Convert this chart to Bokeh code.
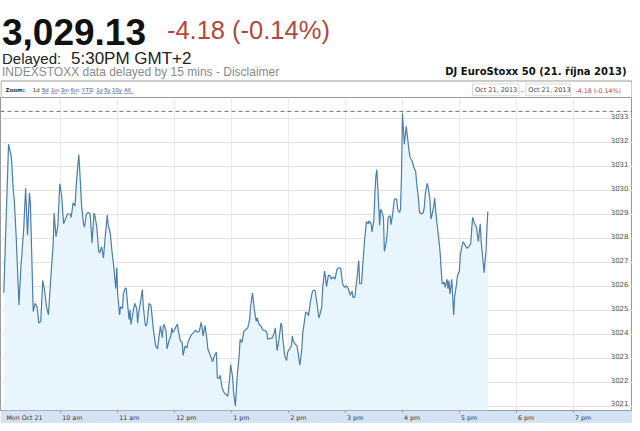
import sys
import pandas as pd
from bokeh.plotting import figure
from bokeh.models import Range1d, FixedTicker, Span, Label, Grid
from bokeh.layouts import column
from bokeh.embed import file_html
from bokeh.resources import INLINE
from bokeh.core.properties import value

# ---------------- data (DJ EuroStoxx 50, 21 Oct 2013, minutes after 09:00) ----------------
session_start = "2013-10-21 09:00"
prev_close = 3033.31
last_price = "3,029.13"
change_text = "-4.18 (-0.14%)"

t_a = [0, 5, 8, 10, 11, 13, 16, 18, 21, 23, 25, 27, 28, 31, 33, 35, 37, 39, 41, 43, 45, 47, 50, 52, 53,
       55, 57, 59, 61, 63, 65, 67, 70, 71, 73, 75, 77, 79, 80, 82, 84, 85, 87, 89, 91, 93, 95, 96, 98,
       100, 101, 103, 105, 107, 109, 110, 112, 114, 116, 118, 119, 120]
v_a = [3025.74, 3031.94, 3031.40, 3030.04, 3029.64, 3028.14, 3025.23, 3026.79, 3028.42, 3030.11,
       3028.14, 3029.91, 3029.50, 3024.96, 3025.30, 3025.16, 3024.48, 3024.55, 3026.25, 3025.84,
       3025.16, 3024.82, 3026.65, 3027.74, 3029.07, 3028.08, 3028.55, 3030.29, 3029.77, 3028.62,
       3028.82, 3029.03, 3029.03, 3028.89, 3029.50, 3029.37, 3030.59, 3031.51, 3030.86, 3029.37,
       3028.62, 3028.48, 3029.03, 3029.09, 3029.03, 3027.81, 3029.07, 3028.96, 3028.48, 3027.47,
       3027.40, 3027.67, 3027.20, 3028.14, 3028.99, 3028.55, 3028.28, 3027.47, 3026.79, 3025.91,
       3026.79, 3025.70]

t_b = [122, 123, 125, 126, 128, 129, 131, 132, 133, 134, 136, 138, 140, 141, 142, 144, 146, 147, 149,
       150, 151, 153, 155, 157, 158, 160, 162, 163, 165, 167, 168, 169, 171, 172, 174, 176, 177, 178,
       180, 182, 183, 184, 186, 188, 189, 191, 193, 194, 196, 198, 200, 202, 204, 206, 208, 209, 210,
       212, 214, 215, 217, 219, 220, 222, 224, 225]
v_b = [3024.82, 3025.16, 3025.09, 3025.70, 3025.95, 3025.91, 3025.03, 3024.62, 3025.03, 3024.42,
       3024.89, 3025.30, 3025.09, 3024.48, 3024.89, 3025.36, 3025.88, 3025.16, 3024.42, 3024.35,
       3024.48, 3025.30, 3025.23, 3024.48, 3024.08, 3023.53, 3023.40, 3023.74, 3024.35, 3023.87,
       3024.35, 3024.42, 3024.14, 3023.40, 3023.74, 3023.94, 3024.28, 3024.08, 3024.21, 3024.38,
       3024.44, 3024.14, 3023.74, 3023.67, 3023.13, 3023.53, 3023.43, 3023.67, 3023.87, 3024.01,
       3024.08, 3024.18, 3024.10, 3024.14, 3024.51, 3024.28, 3023.94, 3024.38, 3023.81, 3023.40,
       3023.19, 3022.99, 3022.86, 3023.13, 3023.26, 3022.18]

t_c = [227, 228, 230, 232, 234, 236, 238, 239, 241, 242, 244, 246, 248, 249, 251, 253, 255, 257, 259,
       260, 262, 264, 266, 267, 269, 271, 273, 275, 277, 278, 280, 283, 285, 286, 288, 290, 292, 293,
       294, 296, 298, 299, 301, 303, 304, 305, 307, 309, 311, 312, 314, 315, 317, 318, 320, 321, 323,
       325, 326, 328]
v_c = [3022.18, 3022.31, 3021.77, 3021.59, 3021.50, 3021.43, 3022.18, 3022.75, 3022.25, 3021.64,
       3021.02, 3022.31, 3023.13, 3023.80, 3023.67, 3024.14, 3024.21, 3024.28, 3024.62, 3025.16,
       3025.73, 3025.03, 3024.55, 3024.69, 3024.42, 3024.35, 3024.18, 3024.18, 3024.10, 3023.81,
       3023.83, 3023.87, 3024.08, 3024.28, 3023.33, 3023.81, 3024.48, 3024.35, 3023.81, 3023.13,
       3022.92, 3023.26, 3023.40, 3023.53, 3023.94, 3023.74, 3023.60, 3023.53, 3022.99, 3022.72,
       3023.40, 3024.08, 3024.62, 3024.94, 3024.89, 3024.78, 3025.36, 3025.77, 3025.84, 3025.84]

t_d = [330, 332, 333, 335, 336, 338, 339, 340, 342, 344, 345, 347, 349, 351, 353, 355, 357, 359, 361,
       363, 365, 367, 368, 370, 372, 374, 375, 377, 378, 380, 382, 384, 385, 387, 388, 390, 391, 392,
       393, 394, 396, 397, 398, 400, 401, 403, 404, 405, 407, 408, 410, 411, 412, 414, 415, 417, 418,
       419, 420]
v_d = [3025.30, 3024.69, 3024.82, 3025.16, 3025.97, 3026.65, 3026.38, 3026.00, 3026.48, 3026.45,
       3026.31, 3026.41, 3026.31, 3026.72, 3026.79, 3026.76, 3026.11, 3025.97, 3026.03, 3025.91,
       3025.64, 3025.81, 3025.54, 3025.60, 3026.31, 3027.09, 3026.11, 3026.14, 3026.79, 3027.87,
       3028.71, 3028.62, 3028.75, 3028.62, 3028.28, 3028.82, 3029.91, 3030.59, 3030.88, 3030.18,
       3028.55, 3029.23, 3029.16, 3028.89, 3027.47, 3027.87, 3028.28, 3028.89, 3028.96, 3028.58,
       3029.12, 3029.50, 3029.66, 3029.64, 3029.23, 3029.09, 3029.23, 3030.59, 3033.23]

t_e = [422, 424, 425, 427, 428, 430, 432, 434, 435, 437, 438, 440, 442, 443, 444, 446, 447, 449, 450,
       451, 453, 454, 455, 457, 459, 460, 461, 462, 464, 465, 467, 468, 469, 470, 471, 472, 473, 474,
       475, 477, 478, 480, 481, 483, 484, 485, 487, 488, 490, 492, 493, 494, 496, 497, 498, 500, 501,
       502, 503, 505, 506, 508, 509, 510]
v_e = [3031.94, 3032.69, 3032.35, 3031.67, 3031.40, 3031.26, 3030.99, 3030.79, 3030.31, 3029.64,
       3029.09, 3029.03, 3029.09, 3029.30, 3029.84, 3030.31, 3030.18, 3029.64, 3028.82, 3028.96,
       3029.37, 3029.70, 3029.16, 3028.42, 3027.74, 3027.26, 3026.58, 3026.11, 3026.18, 3025.97,
       3026.31, 3025.91, 3026.25, 3025.70, 3025.97, 3026.31, 3025.57, 3024.82, 3025.57, 3026.11,
       3026.45, 3026.65, 3027.33, 3027.74, 3027.87, 3027.81, 3027.67, 3027.60, 3027.67, 3027.81,
       3028.42, 3028.89, 3028.62, 3028.55, 3028.48, 3027.87, 3028.28, 3028.62, 3027.87, 3027.06,
       3026.58, 3027.47, 3028.42, 3029.13]

y_ticks = [3021, 3022, 3023, 3024, 3025, 3026, 3027, 3028, 3029, 3030, 3031, 3032, 3033]
hour_marks = [9, 10, 11, 12, 13, 14, 15, 16, 17, 18, 19]
hour_labels = ["Mon Oct 21", "10 am", "11 am", "12 pm", "1 pm", "2 pm", "3 pm", "4 pm", "5 pm", "6 pm", "7 pm"]
zoom_links = ["1d", "5d", "1m", "3m", "6m", "YTD", "1y", "5y", "10y", "All"]
range_text = ["Oct 21, 2013", "-", "Oct 21, 2013"]

# ---------------- assemble ----------------
minutes, prices = [], []
for t, v in [(t_a, v_a), (t_b, v_b), (t_c, v_c), (t_d, v_d), (t_e, v_e)]:
    n = min(len(t), len(v))
    if len(t) != len(v):
        print("length mismatch", len(t), len(v), file=sys.stderr)
    minutes += t[:n]
    prices += v[:n]

base_ms = pd.Timestamp(session_start).value // 10**6


def ms(m):
    return base_ms + m * 60000.0


xs = [ms(m) for m in minutes]

W = 632
HEAD_H = 97
CHART_H = 326
BAND_H = 11
X0, X1 = -3.47, 662.4          # visible window in minutes after 09:00
Y0, Y1 = 3020.833, 3033.889
px_per_min = W / (X1 - X0)

FONT = "DejaVu Sans"
SANS = "Liberation Sans"

# ---------------- header ----------------
head = figure(width=W, height=HEAD_H, x_range=Range1d(0, W), y_range=Range1d(HEAD_H, 0),
              x_axis_type=None, y_axis_type=None, toolbar_location=None, output_backend="svg",
              min_border=0, outline_line_color=None, background_fill_color="white",
              border_fill_color="white")
head.xgrid.visible = False
head.ygrid.visible = False

head.add_layout(Label(x=1.5, y=31.1, text=last_price, text_font=SANS, text_font_style="bold",
                      text_font_size="37px", text_color="#111111", text_baseline="alphabetic"))
head.add_layout(Label(x=166.4, y=29.1, text=change_text, text_font=SANS, text_font_size="25.5px",
                      text_color="#b5463c", text_baseline="alphabetic"))
head.add_layout(Label(x=1.5, y=58.2, text="Delayed:", text_font=SANS, text_font_size="15px",
                      text_color="#222222", text_baseline="alphabetic"))
head.add_layout(Label(x=70.5, y=58.2, text="5:30PM GMT+2", text_font=SANS, text_font_size="17px",
                      text_color="#222222", text_baseline="alphabetic"))
head.add_layout(Label(x=1.5, y=71.9, text="INDEXSTOXX data delayed by 15 mins - Disclaimer",
                      text_font=SANS, text_font_size="12px", text_color="#8a8a8a",
                      text_baseline="alphabetic"))
head.add_layout(Label(x=626, y=71.0, text="DJ EuroStoxx 50 (21. října 2013)", text_font=FONT,
                      text_font_style="bold", text_font_size="10px", text_color="#111111",
                      text_align="right", text_baseline="alphabetic"))

# zoom-bar box (top rule and sides continue the chart outline)
head.segment(x0=[0.5, 0.5, W - 0.5], y0=[80.5, 80.5, 80.5], x1=[W - 0.5, 0.5, W - 0.5],
             y1=[80.5, HEAD_H, HEAD_H], line_color="#9a9a9a", line_width=1)
zy = 89.6
head.add_layout(Label(x=4.9, y=zy, text="Zoom:", text_font=FONT, text_font_style="bold",
                      text_font_size="5.5px", text_color="#333333", text_baseline="middle"))
link_x = [32.3, 41.5, 50.4, 60.2, 70.1, 81.0, 95.8, 103.7, 111.6, 123.4]
ux0, ux1, uy = [], [], []
for i, (lx, lt) in enumerate(zip(link_x, zoom_links)):
    col = "#333333" if i == 0 else "#3b5a9a"
    head.add_layout(Label(x=lx, y=zy, text=lt, text_font=SANS, text_font_size="6px",
                          text_color=col, text_baseline="middle"))
    if i > 0:
        ux0.append(lx)
        ux1.append(lx + len(lt) * 3.3)
        uy.append(zy + 3.2)
head.segment(x0=ux0, y0=uy, x1=ux1, y1=uy, line_color="#3b5a9a", line_width=0.6)

head.quad(left=[472, 525.4], right=[518.4, 569.8], top=[83.4, 83.4], bottom=[95.2, 95.2],
          fill_color=None, line_color="#d8d8d8", line_width=1)
head.add_layout(Label(x=474.5, y=zy, text=range_text[0], text_font=FONT, text_font_size="6.5px",
                      text_color="#444444", text_baseline="middle"))
head.add_layout(Label(x=520.3, y=zy, text=range_text[1], text_font=FONT, text_font_size="6.5px",
                      text_color="#444444", text_baseline="middle"))
head.add_layout(Label(x=527.8, y=zy, text=range_text[2], text_font=FONT, text_font_size="6.5px",
                      text_color="#444444", text_baseline="middle"))
head.add_layout(Label(x=575.0, y=zy, text=change_text, text_font=FONT, text_font_size="6.3px",
                      text_color="#b0474a", text_baseline="middle"))

# ---------------- chart ----------------
p = figure(width=W, height=CHART_H, x_axis_type="datetime", y_axis_type=None,
           x_range=Range1d(ms(X0), ms(X1)), y_range=Range1d(Y0, Y1),
           toolbar_location=None, output_backend="svg",
           min_border_left=0, min_border_right=0, min_border_top=0, min_border_bottom=BAND_H,
           background_fill_color="white", border_fill_color="#d3e3f3",
           outline_line_color="#9a9a9a")

# grids
p.xgrid.ticker = FixedTicker(ticks=[ms((h - 9) * 60) for h in hour_marks[1:]])
p.xgrid.grid_line_color = "#ececec"
p.add_layout(Grid(dimension=1, ticker=FixedTicker(ticks=y_ticks), grid_line_color="#e2e2e2"))

# area + line
p.varea(x=xs, y1=Y0, y2=prices, fill_color="#e8f5fc")
p.line(xs, prices, line_color="#4b7ea8", line_width=1.2)

# previous close
p.add_layout(Span(location=prev_close, dimension="width", line_color="#707070",
                  line_dash="4 3", line_width=1))

# y labels inside plot, right side
p.text(x=[ms(X1)] * len(y_ticks), y=y_ticks, text=[str(v) for v in y_ticks],
       text_align="right", text_baseline="bottom", x_offset=-4, y_offset=0,
       text_font=value(FONT), text_font_size="7px", text_color="#555555")

# x axis: left-aligned labels just right of each hour tick
CW = {"0": .636, "1": .636, "2": .636, "3": .636, "4": .636, "5": .636, "6": .636, "7": .636,
      "8": .636, "9": .636, " ": .318, "a": .613, "m": .974, "p": .635, "M": .863, "o": .612,
      "n": .634, "O": .787, "c": .55, "t": .392}
LFS = 6.3
label_pos = []
overrides = {}
for h, lab in zip(hour_marks, hour_labels):
    w = sum(CW.get(ch, .6) for ch in lab) * LFS
    pad = 2.6 if h == 9 else 1.6
    pos = int(round(ms((h - 9) * 60 + (pad + w / 2) / px_per_min)))
    label_pos.append(pos)
    overrides[pos] = lab

ax = p.xaxis[0]
ax.ticker = FixedTicker(ticks=label_pos, minor_ticks=[ms((h - 9) * 60) for h in hour_marks[1:]])
ax.major_label_overrides = overrides
ax.axis_line_color = None
ax.major_tick_line_color = None
ax.major_tick_out = 0
ax.major_tick_in = 0
ax.minor_tick_out = 2
ax.minor_tick_in = 0
ax.minor_tick_line_color = "#8090a0"
ax.major_label_standoff = 1
ax.major_label_text_font = FONT
ax.major_label_text_font_size = f"{LFS}px"
ax.major_label_text_color = "#333333"

layout = column(head, p, spacing=0)
open("out.html", "w").write(file_html(layout, INLINE))
